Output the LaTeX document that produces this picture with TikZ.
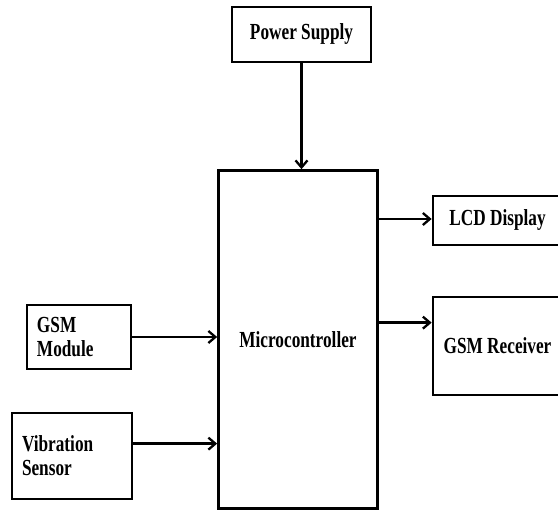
\documentclass[tikz,border=0pt]{standalone}
\usepackage{fontspec}
\setmainfont{Liberation Serif}[FakeStretch=0.75]
\usetikzlibrary{arrows.meta}
\begin{document}
\begin{tikzpicture}[x=1pt,y=-1pt,
  blk/.style={draw=black, line width=2.7pt, rectangle, inner sep=0pt, align=center,
    font=\fontsize{23}{24}\selectfont\bfseries},
  lblk/.style={draw=black, line width=2.7pt, rectangle, inner xsep=10pt, inner ysep=0pt,
    align=left, font=\fontsize{23}{24}\selectfont\bfseries},
  conn/.style={line width=2.5pt, -{Straight Barb[length=7pt,width=12pt,line width=2.3pt]}}]
\useasboundingbox (0,0) rectangle (558,510);
\fill[white] (0,0) rectangle (558,510);
\node[blk, minimum width=139pt, minimum height=55pt] (ps) at (301.5,34.5) {Power Supply};
\node[blk, minimum width=159pt, minimum height=338pt] (mc) at (298,339.5) {Microcontroller};
\node[blk, minimum width=129pt, minimum height=49pt] (lcd) at (497.5,220.5) {LCD Display};
\node[blk, minimum width=129pt, minimum height=98pt] (gr) at (497.5,346) {GSM Receiver};
\node[lblk, text width=84pt, minimum height=64pt] (gm) at (79,337) {GSM\\Module};
\node[lblk, text width=100pt, minimum height=86pt] (vs) at (72,456) {Vibration\\Sensor};
\draw[conn] (ps.south) -- (ps.south |- mc.north);
\draw[conn] ([yshift=1.5pt]lcd.west -| mc.east) -- ([yshift=1.5pt]lcd.west);
\draw[conn] ([yshift=-27pt]gr.north west -| mc.east) -- ([yshift=-27pt]gr.north west);
\draw[conn] (gm.east) -- (gm.east -| mc.west);
\draw[conn] ([yshift=-32pt]vs.north east) -- ([yshift=-32pt]vs.north east -| mc.west);
\end{tikzpicture}
\end{document}
